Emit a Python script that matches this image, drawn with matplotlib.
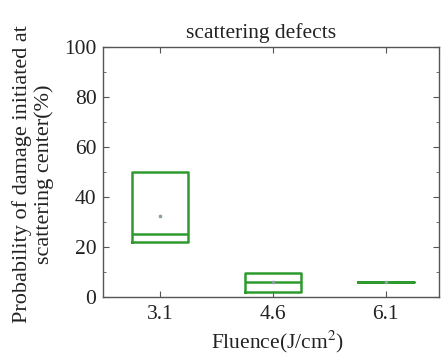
import matplotlib.pyplot as plt
from matplotlib.ticker import MultipleLocator

# Fluence levels and box statistics (%)
fluence = ['3.1', '4.6', '6.1']
q1 = [22, 1.7, 6]
median = [25, 6, 6]
q3 = [50, 9.6, 6]
mean = [32.5, 6, 6]

plt.rcParams['font.family'] = ['Liberation Serif', 'DejaVu Serif']
plt.rcParams['mathtext.fontset'] = 'stix'

fig = plt.figure(figsize=(4.42, 3.54), dpi=100)
ax = fig.add_axes([0.234, 0.162, 0.759, 0.704])

green = '#2e9a2e'
stats = []
for i in range(len(fluence)):
    stats.append({'q1': q1[i], 'med': median[i], 'q3': q3[i], 'mean': mean[i],
                  'whislo': q1[i], 'whishi': q3[i], 'fliers': []})

ax.bxp(stats, positions=[1, 2, 3], widths=0.5, showcaps=False, showfliers=False,
       showmeans=True,
       boxprops=dict(color=green, linewidth=1.8),
       medianprops=dict(color=green, linewidth=1.8),
       whiskerprops=dict(linewidth=0),
       meanprops=dict(marker='s', markersize=1.5, markerfacecolor='#8aa0a0',
                      markeredgecolor='#8aa0a0'))

ax.set_xlim(0.5, 3.47)
ax.set_ylim(0, 100)
ax.set_xticks([1, 2, 3])
ax.set_xticklabels(fluence)
ax.yaxis.set_major_locator(MultipleLocator(20))
ax.yaxis.set_minor_locator(MultipleLocator(10))
ax.tick_params(axis='both', which='both', direction='in', top=True, right=True,
               labelsize=15.5, color='#555555', labelcolor='#222222')
ax.tick_params(axis='both', which='major', length=4)
ax.tick_params(axis='x', which='major', pad=6)
ax.tick_params(axis='y', which='major', pad=5)
ax.tick_params(axis='y', which='minor', length=2)
for sp in ax.spines.values():
    sp.set_color('#555555')
    sp.set_linewidth(1.0)

ax.set_title('scattering defects', fontsize=15.5, pad=7, color='#222222', x=0.47)
ax.set_xlabel('Fluence(J/cm$^2$)', fontsize=15.5, labelpad=2, color='#222222')
ax.xaxis.set_label_coords(0.52, -0.13)
ax.set_ylabel('Probability of damage initiated at\nscattering center(%)',
              fontsize=16, color='#222222', linespacing=1.15)
ax.yaxis.set_label_coords(-0.148, 0.49)

plt.savefig('out.png', dpi=100)
